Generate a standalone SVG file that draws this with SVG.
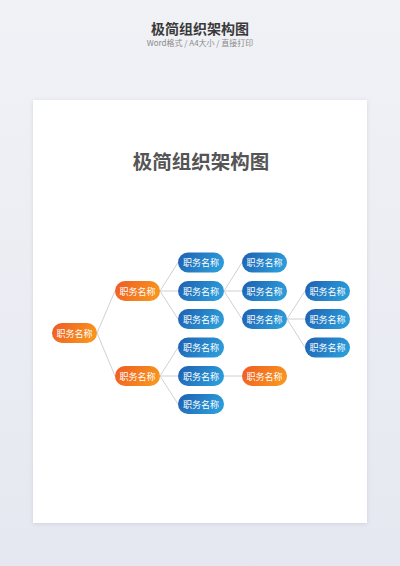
<svg xmlns="http://www.w3.org/2000/svg" width="400" height="566" viewBox="0 0 400 566">
<defs>
<linearGradient id="bg" x1="0" y1="0" x2="0" y2="1"><stop offset="0" stop-color="#f1f2f6"/><stop offset="1" stop-color="#e6e8f1"/></linearGradient>
<linearGradient id="org" x1="0" y1="0" x2="1" y2="0.3"><stop offset="0" stop-color="#ee5a24"/><stop offset="1" stop-color="#f7931e"/></linearGradient>
<linearGradient id="blu" x1="0" y1="0" x2="1" y2="0.3"><stop offset="0" stop-color="#1f5fb0"/><stop offset="1" stop-color="#2b9ad8"/></linearGradient>
<filter id="sh" x="-10%" y="-10%" width="120%" height="120%"><feDropShadow dx="0" dy="1" stdDeviation="2" flood-color="#a0a6b8" flood-opacity="0.35"/></filter>
<style>
.t{font-family:"Noto Sans CJK SC","Liberation Sans",sans-serif;fill:#fff;font-size:9px;text-anchor:middle;dominant-baseline:central}
.o{fill:url(#org)}
.b{fill:url(#blu)}
.c line{stroke:#c4c4c4;stroke-width:0.8}
</style>
</defs>
<rect width="400" height="566" fill="url(#bg)"/>
<text x="200" y="34" font-family="Noto Sans CJK SC, sans-serif" font-size="14" font-weight="bold" fill="#3a3a3a" text-anchor="middle">极简组织架构图</text>
<text x="200" y="46" font-family="Noto Sans CJK SC, sans-serif" font-size="8" fill="#8a8a8a" text-anchor="middle">Word格式 / A4大小 / 直接打印</text>
<rect x="33" y="100" width="334" height="423" fill="#fff" filter="url(#sh)"/>
<text x="201" y="169" font-family="Noto Sans CJK SC, sans-serif" font-size="19.5" font-weight="bold" fill="#555" text-anchor="middle">极简组织架构图</text>
<g class="c">
<line x1="97" y1="333" x2="115" y2="291"/>
<line x1="97" y1="333" x2="115" y2="376"/>
<line x1="160" y1="291" x2="178" y2="262.5"/>
<line x1="160" y1="291" x2="178" y2="291"/>
<line x1="160" y1="291" x2="178" y2="319"/>
<line x1="160" y1="376" x2="178" y2="347.5"/>
<line x1="160" y1="376" x2="178" y2="376"/>
<line x1="160" y1="376" x2="178" y2="404"/>
<line x1="224" y1="291" x2="242" y2="262.5"/>
<line x1="224" y1="291" x2="242" y2="291"/>
<line x1="224" y1="291" x2="242" y2="319"/>
<line x1="224" y1="376" x2="242" y2="376"/>
<line x1="287" y1="319" x2="305" y2="291"/>
<line x1="287" y1="319" x2="305" y2="319"/>
<line x1="287" y1="319" x2="305" y2="347.5"/>
</g>
<g id="n0"><rect class="o" x="52" y="323" width="45" height="20" rx="10"/><text class="t" x="74.5" y="333">职务名称</text></g>
<g id="n1"><rect class="o" x="115" y="281" width="45" height="20" rx="10"/><text class="t" x="137.5" y="291">职务名称</text></g>
<g id="n2"><rect class="o" x="115" y="366" width="45" height="20" rx="10"/><text class="t" x="137.5" y="376">职务名称</text></g>
<g id="n3"><rect class="b" x="178" y="252.5" width="46" height="20" rx="10"/><text class="t" x="201" y="262.5">职务名称</text></g>
<g id="n4"><rect class="b" x="178" y="281" width="46" height="20" rx="10"/><text class="t" x="201" y="291">职务名称</text></g>
<g id="n5"><rect class="b" x="178" y="309" width="46" height="20" rx="10"/><text class="t" x="201" y="319">职务名称</text></g>
<g id="n6"><rect class="b" x="178" y="337.5" width="46" height="20" rx="10"/><text class="t" x="201" y="347.5">职务名称</text></g>
<g id="n7"><rect class="b" x="178" y="366" width="46" height="20" rx="10"/><text class="t" x="201" y="376">职务名称</text></g>
<g id="n8"><rect class="b" x="178" y="394" width="46" height="20" rx="10"/><text class="t" x="201" y="404">职务名称</text></g>
<g id="n9"><rect class="b" x="242" y="252.5" width="45" height="20" rx="10"/><text class="t" x="264.5" y="262.5">职务名称</text></g>
<g id="n10"><rect class="b" x="242" y="281" width="45" height="20" rx="10"/><text class="t" x="264.5" y="291">职务名称</text></g>
<g id="n11"><rect class="b" x="242" y="309" width="45" height="20" rx="10"/><text class="t" x="264.5" y="319">职务名称</text></g>
<g id="n12"><rect class="o" x="242" y="366" width="45" height="20" rx="10"/><text class="t" x="264.5" y="376">职务名称</text></g>
<g id="n13"><rect class="b" x="305" y="281" width="45" height="20" rx="10"/><text class="t" x="327.5" y="291">职务名称</text></g>
<g id="n14"><rect class="b" x="305" y="309" width="45" height="20" rx="10"/><text class="t" x="327.5" y="319">职务名称</text></g>
<g id="n15"><rect class="b" x="305" y="337.5" width="45" height="20" rx="10"/><text class="t" x="327.5" y="347.5">职务名称</text></g>
</svg>
